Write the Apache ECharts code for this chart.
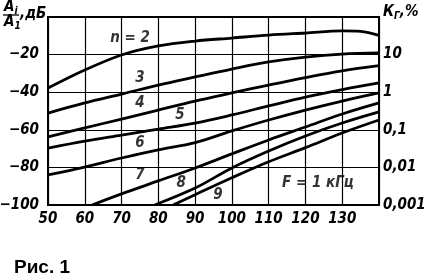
<!DOCTYPE html>
<html>
<head>
<meta charset="utf-8">
<script src="https://cdn.jsdelivr.net/npm/echarts@6/dist/echarts.min.js"></script>
<style>
html,body{margin:0;padding:0;background:#fff;}
#c{width:429px;height:278px;}
</style>
</head>
<body>
<div id="c"></div>
<script>
// ---- data (p, dB) ----
const curveN2 = [[50,-37.8],[60,-28.2],[70,-20.2],[80,-15.4],[90,-12.8],[100,-11.2],[110,-9.6],[120,-8.5],[130,-7.4],[135,-7.6],[140,-9.8]];
const curveN3 = [[50,-51.1],[60,-45.7],[70,-41.0],[80,-36.2],[90,-31.9],[100,-27.7],[110,-23.9],[120,-21.3],[130,-19.7],[140,-19.1]];
const curveN4 = [[50,-63.8],[60,-59.0],[70,-54.3],[80,-49.5],[90,-44.7],[100,-40.4],[110,-36.2],[120,-32.2],[130,-28.6],[140,-25.9]];
const curveN5 = [[50,-69.7],[60,-66.0],[70,-62.8],[80,-59.6],[90,-56.4],[100,-52.1],[110,-47.3],[120,-42.6],[130,-38.6],[140,-35.1]];
const curveN6 = [[50,-84.0],[60,-79.8],[70,-75.0],[80,-70.7],[90,-66.8],[100,-60.6],[110,-54.8],[120,-49.5],[130,-44.7],[140,-40.4]];
const curveN7 = [[62,-100],[70,-94.1],[80,-87.2],[90,-80.3],[100,-72.8],[110,-65.4],[120,-58.5],[130,-51.6],[140,-45.7]];
const curveN8 = [[79,-100],[90,-91.0],[100,-80.3],[110,-71.3],[120,-63.3],[130,-56.4],[140,-50.5]];
const curveN9 = [[84,-100],[90,-94.5],[100,-85.5],[110,-77.0],[120,-69.5],[130,-61.7],[140,-54.8]];
const curves = [curveN2, curveN3, curveN4, curveN5, curveN6, curveN7, curveN8, curveN9];

const curveNames = ['n = 2','3','4','5','6','7','8','9'];
// label anchor points in data coordinates (p, dB)
const curveLabelSpots = [[72.3,-11.2],[75,-32.4],[75,-45.7],[85.9,-52.1],[75,-67],[75,-84],[86.2,-88.3],[96.2,-94.7]];
const noteText = 'F = 1 кГц';
const noteSpot = [123.4,-88.3];

const xTicks = [50,60,70,80,90,100,110,120,130,140];
const xLastLabel = 'p,дБА';
const leftTicks = [-100,-80,-60,-40,-20,0];
const rightTickLabels = {0.001:'0,001',0.01:'0,01',0.1:'0,1',1:'1',10:'10'};
const leftAxisTop = 'A{s|i}';
const leftAxisBottom = 'A{s|1}';
const leftAxisUnit = ',дБ';
const rightAxisName = 'К{s|Г},%';
const figCaption = 'Рис. 1';

const FONT = "'Liberation Sans Narrow','DejaVu Sans Condensed','Liberation Sans',sans-serif";
const chart = echarts.init(document.getElementById('c'), null, {renderer:'canvas'});

const lineSeries = curves.map((d,i)=>({
  type:'line', name:curveNames[i], data:d, smooth:0.35, symbol:'none',
  lineStyle:{color:'#000', width:2.8}, z:3, clip:true, animation:false
}));

const labelSeries = {
  type:'scatter', symbolSize:0, animation:false, z:5,
  data: curveLabelSpots.map((s,i)=>({value:s, label:{formatter:curveNames[i]}})).concat([{value:noteSpot,label:{formatter:noteText}}]),
  label:{show:true, position:'inside', color:'#000', fontFamily:FONT, fontStyle:'italic', fontWeight:'bold', fontSize:15}
};
const subRich = {s:{fontSize:10,fontStyle:'italic',fontWeight:'bold',fontFamily:FONT,padding:[7,0,0,0]}};

chart.setOption({
  animation:false,
  backgroundColor:'#fff',
  grid:{left:48,right:50,top:17,bottom:73,show:true,borderColor:'#000',borderWidth:2,backgroundColor:'transparent',
        containLabel:false, outerBoundsMode:'none'},
  xAxis:{
    type:'value', min:50, max:140, interval:10,
    axisLine:{show:true,lineStyle:{color:'#000',width:2}},
    axisTick:{show:false},
    splitLine:{show:true,lineStyle:{color:'#000',width:1.2}},
    axisLabel:{color:'#000',fontFamily:FONT,fontStyle:'italic',fontWeight:'bold',fontSize:15,margin:7,alignMaxLabel:'right',
      formatter:v=> v===xTicks[xTicks.length-1] ? xLastLabel : (xTicks.indexOf(v)>=0?String(v):'')}
  },
  yAxis:[{
    type:'value', min:-100, max:0, interval:20,
    axisLine:{show:true,lineStyle:{color:'#000',width:2}},
    axisTick:{show:false},
    splitLine:{show:true,lineStyle:{color:'#000',width:1.2}},
    axisLabel:{color:'#000',fontFamily:FONT,fontStyle:'italic',fontWeight:'bold',fontSize:15,margin:9,
      formatter:v=> (v===0 || leftTicks.indexOf(v)<0) ? '' : '−'+Math.abs(v)}
  },{
    type:'log', logBase:10, min:0.001, max:100, position:'right',
    axisLine:{show:true,lineStyle:{color:'#000',width:2}},
    axisTick:{show:false},
    splitLine:{show:false},
    axisLabel:{color:'#000',fontFamily:FONT,fontStyle:'italic',fontWeight:'bold',fontSize:15,margin:4,align:'left',
      formatter:v=>{ for(const k in rightTickLabels){ if(Math.abs(Math.log10(v)-Math.log10(+k))<1e-6) return rightTickLabels[k]; } return ''; }}
  }],
  title:{text:figCaption,left:9,top:253,textStyle:{fontFamily:"'Liberation Sans',Arial,sans-serif",fontWeight:'bold',fontSize:19,color:'#000'}},
  graphic:[
    {type:'text',left:4,top:0,style:{text:leftAxisTop,font:"italic bold 15px "+FONT,fill:'#000',rich:subRich}},
    {type:'line',shape:{x1:3,y1:15,x2:19,y2:15},style:{stroke:'#000',lineWidth:1.3}},
    {type:'text',left:4,top:15,style:{text:leftAxisBottom,font:"italic bold 15px "+FONT,fill:'#000',rich:subRich}},
    {type:'text',left:20,top:7,style:{text:leftAxisUnit,font:"italic bold 15px "+FONT,fill:'#000'}},
    {type:'text',left:383,top:5,style:{text:rightAxisName,font:"italic bold 15px "+FONT,fill:'#000',rich:subRich}}
  ],
  series: lineSeries.concat([labelSeries])
});
</script>
</body>
</html>
